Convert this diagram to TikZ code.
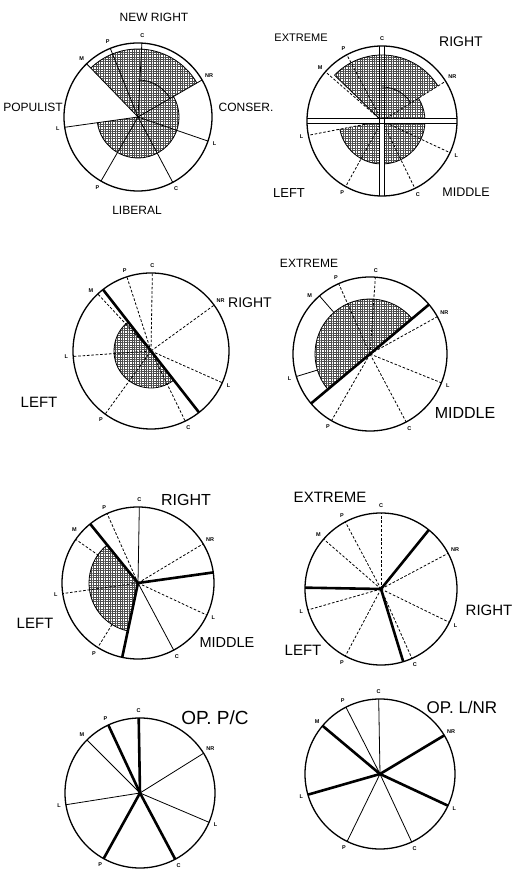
\documentclass[tikz,border=0pt]{standalone}
\usepackage{fontspec}
\setmainfont{Liberation Sans}
\usetikzlibrary{patterns.meta}
\tikzset{
 rim/.style={line width=1.3pt},
 thn/.style={line width=0.8pt},
 dsh/.style={line width=0.8pt, dash pattern=on 2.6pt off 1.8pt},
 thk/.style={line width=2.6pt},
 shd/.style={pattern={Hatch[angle=0,distance=2.4pt,line width=0.75pt]}, pattern color=black!70},
 lab/.style={font=\fontsize{5.5}{6}\selectfont\bfseries, inner sep=0pt},
 big/.style={inner sep=0pt}
}
\newcommand{\wlab}[9]{%
 \node[lab] (#1c) at ({#2}:{\wR+7}) {C};
 \node[lab] (#1nr) at ({#3}:{\wR+8}) {NR};
 \node[lab] (#1l) at ({#4}:{\wR+7}) {L};
 \node[lab] (#1cc) at ({#5}:{\wR+7}) {C};
 \node[lab] (#1p) at ({#6}:{\wR+7}) {P};
 \node[lab] (#1ll) at ({#7}:{\wR+7}) {L};
 \node[lab] (#1m) at ({#8}:{\wR+7}) {M};
 \node[lab] (#1pp) at ({#9}:{\wR+7}) {P};
}
\newcommand{\fsz}[1]{\fontsize{#1}{#1}\selectfont}
\begin{document}
\begin{tikzpicture}[x=1pt,y=1pt]
\useasboundingbox[fill=white] (0,0) rectangle (513,873);

% ---------- circle 1 ----------
\begin{scope}[shift={(138,756)}]
 \def\wR{74}
 \fill[shd] (0,0) -- (30:68) arc[start angle=30,end angle=134,radius=68pt] -- cycle;
 \fill[shd] (0,0) -- (-172:41) arc[start angle=-172,end angle=30,radius=41pt] -- cycle;
 \draw[thn] (30:68) arc[start angle=30,end angle=134,radius=68pt];
 \draw[thn] (-172:41) arc[start angle=-172,end angle=30,radius=41pt];
 \draw[thn] (30:37) arc[start angle=30,end angle=90,radius=37pt];
 \foreach \a in {87,30,-19,-62,-120,-172,134,112} \draw[thn] (0,0) -- (\a:74);
 \draw[rim] (0,0) circle[radius=74pt];
 \wlab{a}{87}{30}{-19}{-62}{-120}{-172}{134}{112}
\end{scope}
\node[big,font=\fsz{12}] (t1a) at (154,856) {NEW RIGHT};
\node[big,font=\fsz{12}] (t1b) at (33,766) {POPULIST};
\node[big,font=\fsz{12}] (t1c) at (246,766) {CONSER.};
\node[big,font=\fsz{12}] (t1d) at (137,663) {LIBERAL};

% ---------- circle 2 ----------
\begin{scope}[shift={(382,752)}]
 \def\wR{75}
 \fill[shd] (0,0) -- (32:66) arc[start angle=32,end angle=136,radius=66pt] -- cycle;
 \fill[shd] (0,0) -- (-169:43) arc[start angle=-169,end angle=32,radius=43pt] -- cycle;
 \draw[thn] (32:66) arc[start angle=32,end angle=136,radius=66pt] -- (0,0);
 \draw[thn] (-169:43) arc[start angle=-169,end angle=32,radius=43pt];
 \draw[thn] (32:34) arc[start angle=32,end angle=90,radius=34pt];
 \foreach \a in {32,-25,-64,-119,-169,139,118} \draw[dsh] (0,0) -- (\a:75);
 \fill[white] (-2.2,-74.9) rectangle (2.2,0);
 \fill[white] (-74.9,-2.2) rectangle (74.9,2.2);
 \draw[thn] (-2.2,-74.9) -- (-2.2,74.9) (2.2,-74.9) -- (2.2,74.9);
 \draw[thn] (-74.9,-2.2) -- (74.9,-2.2) (-74.9,2.2) -- (74.9,2.2);
 \draw[rim] (0,0) circle[radius=75pt];
 \wlab{b}{90}{32}{-25}{-64}{-119}{-169}{139}{118}
\end{scope}
\node[big,font=\fsz{11}] (t2a) at (301,835) {EXTREME};
\node[big,font=\fsz{14}] (t2b) at (461,831) {RIGHT};
\node[big,font=\fsz{13}] (t2c) at (289,680) {LEFT};
\node[big,font=\fsz{12.5}] (t2d) at (466,681) {MIDDLE};

% ---------- circle 3 ----------
\begin{scope}[shift={(151,522)}]
 \def\wR{78}
 \fill[shd] (0,0) -- (128:37) arc[start angle=128,end angle=308,radius=37pt] -- cycle;
 \draw[thn] (128:37) arc[start angle=128,end angle=308,radius=37pt];
 \foreach \a in {89,36,-24,-64,-126,-176,133,108} \draw[dsh] (0,0) -- (\a:78);
 \draw[thk] (128:78) -- (308:78);
 \draw[rim] (0,0) circle[radius=78pt];
 \wlab{c}{89}{36}{-24}{-64}{-126}{-176}{135}{108}
\end{scope}
\node[big,font=\fsz{14}] (t3a) at (250,570) {RIGHT};
\node[big,font=\fsz{15}] (t3b) at (39,471) {LEFT};

% ---------- circle 4 ----------
\begin{scope}[shift={(370,519)}]
 \def\wR{77}
 \fill[shd] (0,0) -- (40:55) arc[start angle=40,end angle=220,radius=55pt] -- cycle;
 \draw[thn] (40:55) arc[start angle=40,end angle=220,radius=55pt];
 \foreach \a in {86,29,-22,-62,-120,114} \draw[dsh] (0,0) -- (\a:77);
 \draw[thn] (131:55) -- (131:77);
 \draw[thn] (197:55) -- (197:77);
 \draw[thk] (40:77) -- (220:77);
 \draw[rim] (0,0) circle[radius=77pt];
 \wlab{d}{86}{29}{-22}{-62}{-120}{-163}{136}{114}
\end{scope}
\node[big,font=\fsz{12}] (t4a) at (309,610) {EXTREME};
\node[big,font=\fsz{16}] (t4b) at (465,460) {MIDDLE};

% ---------- circle 5 ----------
\begin{scope}[shift={(138,290)}]
 \def\wR{76}
 \fill[shd] (0,0) -- (129:49) arc[start angle=129,end angle=258,radius=49pt] -- cycle;
 \draw[thn] (129:49) arc[start angle=129,end angle=258,radius=49pt];
 \foreach \a in {89,-62} \draw[thn] (0,0) -- (\a:76);
 \foreach \a in {31,-25,-172,114} \draw[dsh] (0,0) -- (\a:76);
 \draw[dsh] (145:48) -- (145:76);
 \draw[dsh] (-122:49) -- (-122:76);
 \foreach \a in {8,-102,129} \draw[thk] (0,0) -- (\a:76);
 \draw[rim] (0,0) circle[radius=76pt];
 \wlab{e}{89}{31}{-25}{-62}{-122}{-172}{140}{114}
\end{scope}
\node[big,font=\fsz{16}] (t5a) at (186,373) {RIGHT};
\node[big,font=\fsz{15}] (t5b) at (35,250) {LEFT};
\node[big,font=\fsz{14.5}] (t5c) at (227,230) {MIDDLE};

% ---------- circle 6 ----------
\begin{scope}[shift={(381,284)}]
 \def\wR{76}
 \foreach \a in {90,28,-26,-66,-118,-164,139,118} \draw[dsh] (0,0) -- (\a:76);
 \foreach \a in {51,-73,179} \draw[thk] (0,0) -- (\a:76);
 \draw[rim] (0,0) circle[radius=76pt];
 \wlab{f}{90}{28}{-26}{-66}{-118}{-164}{139}{118}
\end{scope}
\node[big,font=\fsz{15}] (t6a) at (330,376) {EXTREME};
\node[big,font=\fsz{15}] (t6b) at (489,263) {RIGHT};
\node[big,font=\fsz{15}] (t6c) at (303,223) {LEFT};

% ---------- circle 7 ----------
\begin{scope}[shift={(140,80)}]
 \def\wR{75}
 \foreach \a in {135,-171,-23,32} \draw[thn] (0,0) -- (\a:75);
 \foreach \a in {91,115,-119,-62} \draw[thk] (0,0) -- (\a:75);
 \draw[rim] (0,0) circle[radius=75pt];
 \wlab{g}{91}{32}{-23}{-62}{-119}{-171}{135}{115}
\end{scope}
\node[big,font=\fsz{19}] (t7a) at (215,155) {OP.\ P/C};

% ---------- circle 8 ----------
\begin{scope}[shift={(380,99)}]
 \def\wR{75}
 \foreach \a in {91,117,-116,-65} \draw[thn] (0,0) -- (\a:75);
 \foreach \a in {140,-164,-25,31} \draw[thk] (0,0) -- (\a:75);
 \draw[rim] (0,0) circle[radius=75pt];
 \wlab{h}{91}{31}{-25}{-65}{-116}{-164}{140}{117}
\end{scope}
\node[big,font=\fsz{17}] (t8a) at (462,166) {OP.\ L/NR};
\end{tikzpicture}
\end{document}
